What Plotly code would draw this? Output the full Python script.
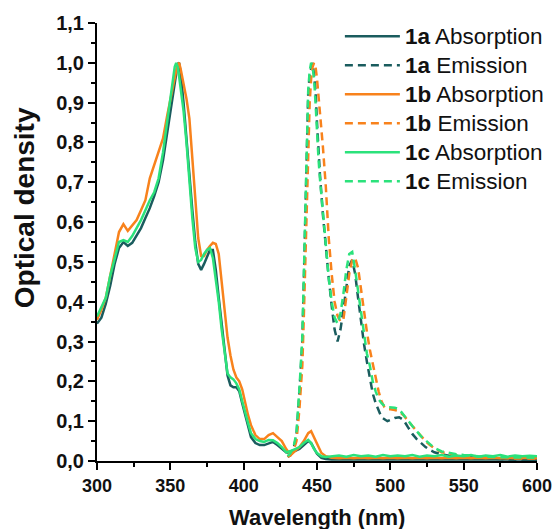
import plotly.graph_objects as go

# ---------------- data ----------------
abs_x = [300, 303, 306, 309, 312, 315, 318, 321, 324, 327, 330, 333, 336, 339, 342, 345, 348, 351,
         353, 354, 355, 356, 357, 359, 361, 363, 365, 367, 369, 371, 373, 375, 377, 379, 381, 383,
         385, 387, 389, 391, 393, 395, 397, 399, 401, 403, 405, 408, 411, 414, 417, 420, 423, 426,
         429, 432, 435, 438, 441, 444, 446, 448, 450, 453, 456, 460, 465, 470, 475, 480, 485, 490,
         495, 500, 505, 510, 515, 520, 525, 530, 535, 540, 545, 550, 555, 560, 565, 570, 575, 580,
         585, 590, 595, 600]

abs_1a = [0.345, 0.36, 0.395, 0.44, 0.495, 0.535, 0.55, 0.54, 0.548, 0.565, 0.585, 0.61, 0.635, 0.665,
          0.70, 0.755, 0.83, 0.90, 0.955, 0.98, 0.997, 1.0, 0.975, 0.90, 0.82, 0.72, 0.63, 0.55, 0.495,
          0.48, 0.495, 0.515, 0.53, 0.53, 0.48, 0.41, 0.34, 0.275, 0.215, 0.19, 0.185, 0.185, 0.175,
          0.145, 0.115, 0.085, 0.06, 0.045, 0.04, 0.04, 0.045, 0.048, 0.04, 0.03, 0.022, 0.02, 0.025,
          0.03, 0.04, 0.05, 0.045, 0.03, 0.018, 0.008, 0.005, 0.004, 0.004, 0.005, 0.004, 0.005, 0.004,
          0.004, 0.005, 0.004, 0.004, 0.005, 0.004, 0.004, 0.005, 0.004, 0.004, 0.004, 0.005, 0.004,
          0.004, 0.004, 0.005, 0.004, 0.004, 0.004, 0.004, 0.004, 0.003, 0.003]

abs_1b = [0.355, 0.38, 0.41, 0.47, 0.52, 0.575, 0.595, 0.578, 0.592, 0.605, 0.63, 0.655, 0.71, 0.745,
          0.775, 0.81, 0.87, 0.93, 0.965, 0.98, 0.995, 1.0, 0.985, 0.95, 0.91, 0.86, 0.77, 0.66, 0.56,
          0.515, 0.515, 0.53, 0.54, 0.548, 0.545, 0.52, 0.45, 0.38, 0.31, 0.265, 0.23, 0.21, 0.20, 0.18,
          0.145, 0.115, 0.09, 0.065, 0.055, 0.055, 0.065, 0.07, 0.06, 0.05, 0.03, 0.015, 0.025, 0.035,
          0.05, 0.07, 0.075, 0.06, 0.045, 0.02, 0.012, 0.008, 0.007, 0.008, 0.007, 0.008, 0.007, 0.008,
          0.007, 0.008, 0.007, 0.008, 0.007, 0.008, 0.007, 0.008, 0.007, 0.008, 0.007, 0.008, 0.007,
          0.008, 0.007, 0.008, 0.007, 0.008, 0.007, 0.008, 0.007, 0.007]

abs_1c = [0.363, 0.385, 0.41, 0.465, 0.51, 0.55, 0.555, 0.55, 0.565, 0.585, 0.605, 0.63, 0.655, 0.675,
          0.71, 0.775, 0.86, 0.94, 0.99, 1.0, 0.99, 0.965, 0.935, 0.88, 0.80, 0.70, 0.61, 0.535, 0.50,
          0.505, 0.52, 0.53, 0.535, 0.51, 0.46, 0.40, 0.33, 0.27, 0.22, 0.21, 0.205, 0.195, 0.18, 0.15,
          0.12, 0.095, 0.07, 0.055, 0.05, 0.048, 0.053, 0.052, 0.045, 0.035, 0.022, 0.025, 0.03, 0.035,
          0.045, 0.053, 0.045, 0.03, 0.02, 0.012, 0.01, 0.012, 0.014, 0.011, 0.015, 0.012, 0.014, 0.011,
          0.015, 0.012, 0.014, 0.012, 0.015, 0.011, 0.014, 0.012, 0.015, 0.011, 0.014, 0.012, 0.015,
          0.011, 0.014, 0.012, 0.015, 0.011, 0.014, 0.012, 0.013, 0.012]

em_x = [430, 432, 434, 436, 438, 440, 441, 442, 443, 444, 445, 446, 447, 448, 449, 450, 451, 452,
        454, 456, 458, 460, 462, 464, 466, 468, 470, 472, 474, 476, 478, 480, 482, 484, 486, 488,
        490, 492, 494, 496, 498, 500, 503, 506, 509, 512, 515, 518, 521, 524, 527, 530, 535, 540,
        545, 550, 555, 560, 570, 580, 590, 600]

em_1a = [0.01, 0.015, 0.03, 0.065, 0.17, 0.30, 0.45, 0.60, 0.78, 0.92, 0.97, 0.99, 1.0, 0.97, 0.93,
         0.85, 0.77, 0.72, 0.62, 0.53, 0.46, 0.39, 0.33, 0.30, 0.33, 0.38, 0.44, 0.49, 0.505, 0.47,
         0.41, 0.35, 0.295, 0.25, 0.205, 0.17, 0.145, 0.125, 0.11, 0.105, 0.10, 0.103, 0.108, 0.11,
         0.103, 0.085, 0.068, 0.055, 0.045, 0.035, 0.028, 0.022, 0.017, 0.013, 0.011, 0.01, 0.008,
         0.007, 0.005, 0.004, 0.003, 0.003]

em_1b = [0.01, 0.015, 0.025, 0.05, 0.13, 0.24, 0.36, 0.50, 0.66, 0.80, 0.90, 0.96, 0.99, 1.0, 0.99,
         0.96, 0.92, 0.88, 0.79, 0.69, 0.56, 0.47, 0.40, 0.365, 0.35, 0.355, 0.41, 0.47, 0.505, 0.51,
         0.485, 0.43, 0.37, 0.325, 0.28, 0.245, 0.21, 0.175, 0.15, 0.135, 0.13, 0.13, 0.128, 0.125,
         0.115, 0.10, 0.088, 0.075, 0.062, 0.05, 0.04, 0.032, 0.022, 0.018, 0.015, 0.013, 0.012,
         0.01, 0.008, 0.007, 0.006, 0.006]

em_1c = [0.012, 0.02, 0.035, 0.07, 0.18, 0.31, 0.46, 0.62, 0.80, 0.93, 0.98, 1.0, 0.99, 0.96, 0.90,
         0.82, 0.76, 0.71, 0.62, 0.53, 0.46, 0.40, 0.36, 0.345, 0.37, 0.42, 0.48, 0.52, 0.525, 0.48,
         0.43, 0.37, 0.32, 0.27, 0.24, 0.20, 0.175, 0.155, 0.145, 0.138, 0.135, 0.135, 0.134, 0.13,
         0.115, 0.10, 0.088, 0.075, 0.062, 0.052, 0.042, 0.033, 0.024, 0.02, 0.017, 0.015, 0.013,
         0.012, 0.01, 0.009, 0.008, 0.008]

names = ["1a", "1b", "1c"]
colors = {"1a": "#1a5c5e", "1b": "#f8821c", "1c": "#2be27b"}
absorption = {"1a": abs_1a, "1b": abs_1b, "1c": abs_1c}
emission = {"1a": em_1a, "1b": em_1b, "1c": em_1c}

x_title = "Wavelength (nm)"
y_title = "Optical density"

# ---------------- figure ----------------
def legend_label(n, kind):
    return f'<span style="font-size:22.5px"><b>{n}</b> {kind}</span>'

fig = go.Figure()
for n in names:
    fig.add_trace(go.Scatter(
        x=abs_x, y=absorption[n], mode="lines",
        name=legend_label(n, "Absorption"),
        line=dict(color=colors[n], width=2.5),
    ))
    fig.add_trace(go.Scatter(
        x=em_x, y=emission[n], mode="lines",
        name=legend_label(n, "Emission"),
        line=dict(color=colors[n], width=2.5, dash="8px,5px"),
    ))

font_family = "Liberation Sans, Arial, sans-serif"
fig.update_layout(
    width=555, height=529,
    margin=dict(l=97, r=18, t=23, b=68, autoexpand=False),
    plot_bgcolor="white", paper_bgcolor="white",
    separators=", ",
    font=dict(family=font_family, color="#111111"),
    showlegend=True,
    legend=dict(
        x=0.552, y=1.014, xanchor="left", yanchor="top",
        font=dict(size=20, family=font_family, color="#111111"),
        bgcolor="rgba(0,0,0,0)", itemwidth=55,
        tracegroupgap=0,
    ),
    annotations=[
        dict(
            text=f"<b>{y_title}</b>", textangle=-90,
            xref="paper", yref="paper", x=-0.164, y=0.579,
            xanchor="center", yanchor="middle", showarrow=False,
            font=dict(size=28, family=font_family, color="#111111"),
        ),
        dict(
            text=f"<b>{x_title}</b>",
            xref="paper", yref="paper", x=0.5, y=-0.130,
            xanchor="center", yanchor="middle", showarrow=False,
            font=dict(size=22, family=font_family, color="#111111"),
        ),
    ],
)
fig.update_xaxes(
    range=[300, 600], tick0=300, dtick=50, automargin=False,
    showline=True, linecolor="black", linewidth=2,
    ticks="outside", ticklen=7, tickwidth=2, tickcolor="black",
    minor=dict(ticks="outside", ticklen=4, tickwidth=2, tickcolor="black", dtick=25),
    showgrid=False, zeroline=False,
    tickfont=dict(size=18, family=font_family, weight="bold", color="#111111"),
)
fig.update_yaxes(
    range=[0, 1.1], tick0=0, dtick=0.1, tickformat=".1f", automargin=False,
    showline=True, linecolor="black", linewidth=2,
    ticks="outside", ticklen=7, tickwidth=2, tickcolor="black",
    minor=dict(ticks="outside", ticklen=4, tickwidth=2, tickcolor="black", dtick=0.05),
    showgrid=False, zeroline=False,
    tickfont=dict(size=20, family=font_family, weight="bold", color="#111111"),
)

fig.write_html(
    "out.html",
    config={"displayModeBar": False},
    post_script="document.body.style.margin='0';document.body.style.overflow='hidden';",
)
